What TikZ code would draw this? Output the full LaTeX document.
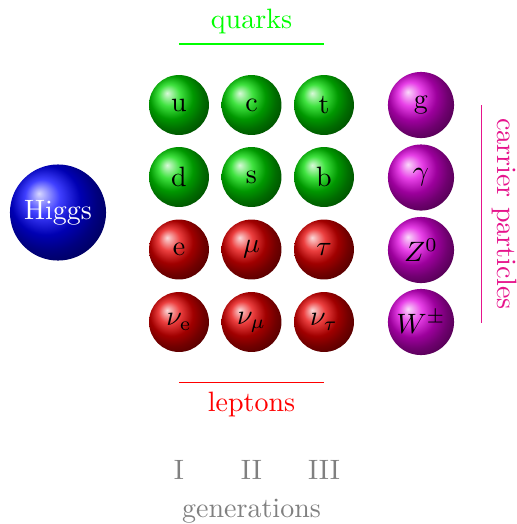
\documentclass[tikz,border=0pt]{standalone}
\usepackage{tikz}
\definecolor{carrier}{RGB}{230,20,140}
\tikzset{
  fermion/.style={circle, inner sep=0pt, minimum size=21.4pt, text=black},
  boson/.style={circle, inner sep=0pt, minimum size=23.6pt, text=black, ball color=magenta!75!violet},
  quark/.style={fermion, ball color=green!85!black},
  lepton/.style={fermion, ball color=red!90!black},
  higgsball/.style={circle, inner sep=0pt, minimum size=34.3pt, ball color=blue, text=white},
  grouplabel/.style={anchor=base, inner sep=0pt},
}
\begin{document}
\begin{tikzpicture}[x=0.357pt,y=-0.357pt]
\useasboundingbox (0,0) rectangle (517,524);
% quarks
\node[quark] (u) at (179,105) {u};
\node[quark] (c) at (251.5,105) {c};
\node[quark] (t) at (324,105) {t};
\node[quark] (d) at (179,177) {d};
\node[quark] (s) at (251.5,177) {s};
\node[quark] (b) at (324,177) {b};
% leptons
\node[lepton] (e) at (179,249.5) {e};
\node[lepton] (mu) at (251.5,249.5) {$\mu$};
\node[lepton] (tau) at (324,249.5) {$\tau$};
\node[lepton] (ne) at (179,322) {$\nu_\mathrm{e}$};
\node[lepton] (nmu) at (251.5,322) {$\nu_\mu$};
\node[lepton] (ntau) at (324,322) {$\nu_\tau$};
% bosons
\node[boson] (g) at (421,105) {g};
\node[boson] (gam) at (421,177.5) {$\gamma$};
\node[boson] (Z) at (421,250) {$Z^0$};
\node[boson] (W) at (421,322) {$W^\pm$};
% Higgs
\node[higgsball] (H) at (58,212.5) {Higgs};
% group labels
\coordinate (qL) at (179,44);
\coordinate (qR) at (324,44);
\draw[green, line width=0.4pt] (qL) -- (qR);
\node[grouplabel, text=green] (quarks) at (251.5,28.5) {quarks};
\coordinate (lL) at (179,382.7);
\coordinate (lR) at (324,382.7);
\draw[red, line width=0.4pt] (lL) -- (lR);
\node[grouplabel, text=red] (leptons) at (251.5,411.7) {leptons};
\coordinate (cT) at (481.7,105);
\coordinate (cB) at (481.7,323);
\draw[carrier, line width=0.4pt] (cT) -- (cB);
\node[grouplabel, text=carrier, rotate=-90] (carr) at (497.5,214) {carrier particles};
% generations
\node[grouplabel, text=gray] (g1) at (179,479) {I};
\node[grouplabel, text=gray] (g2) at (251.5,479) {II};
\node[grouplabel, text=gray] (g3) at (324,479) {III};
\node[grouplabel, text=gray] (gen) at (251.5,517) {generations};
\end{tikzpicture}
\end{document}
